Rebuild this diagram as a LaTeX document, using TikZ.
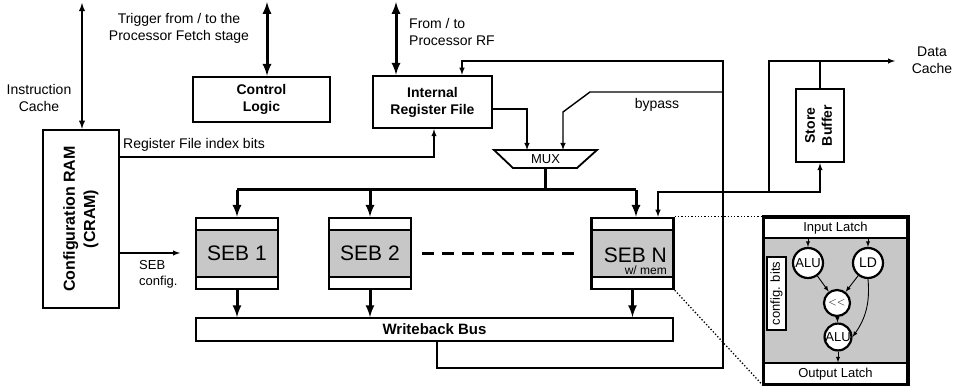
\documentclass[tikz,border=0pt]{standalone}
\usepackage{fontspec}
\setmainfont{Liberation Sans}
\usetikzlibrary{positioning}
\definecolor{sebgray}{gray}{0.78}

\tikzset{
  blk/.style={draw, line width=2.5pt, fill=white, align=center, inner sep=0pt,
    font=\bfseries\fontsize{14}{17}\selectfont},
  wire/.style={line width=1.4pt},
  bus/.style={line width=3pt},
  lbl/.style={align=center, inner sep=0pt, font=\fontsize{14}{17}\selectfont},
  seb/.style={draw, line width=2.5pt, fill=sebgray, minimum width=82pt, minimum height=71pt,
    inner sep=0pt, font=\fontsize{21}{24}\selectfont,
    path picture={
      \fill[white] (path picture bounding box.north west) rectangle ([yshift=-12pt]path picture bounding box.north east);
      \fill[white] (path picture bounding box.south west) rectangle ([yshift=12pt]path picture bounding box.south east);
      \draw[line width=1.8pt] ([yshift=-12pt]path picture bounding box.north west) -- ([yshift=-12pt]path picture bounding box.north east);
      \draw[line width=1.8pt] ([yshift=12pt]path picture bounding box.south west) -- ([yshift=12pt]path picture bounding box.south east);
    }},
  latch/.style={draw, line width=1.8pt, fill=white, minimum width=143pt, inner sep=0pt,
    font=\fontsize{13}{15}\selectfont},
  unit/.style={circle, draw, line width=2.2pt, fill=white, inner sep=0pt, minimum size=28pt,
    font=\fontsize{13}{15}\selectfont},
  fine/.style={line width=0.9pt, -latex},
}

\begin{document}
\begin{tikzpicture}[x=1pt,y=-1pt]
  \useasboundingbox (0,0) rectangle (954,387);

  % blocks
  \node[blk, minimum width=76pt, minimum height=178pt] (cram) at (81,219)
    {\rotatebox{90}{\fontsize{16}{20}\selectfont\begin{tabular}{@{}c@{}}Configuration RAM\\(CRAM)\end{tabular}}};
  \node[blk, minimum width=137pt, minimum height=45pt] (ctrl) at (261.5,99.5) {Control\\Logic};
  \node[blk, minimum width=119pt, minimum height=52pt] (rf) at (432.5,102) {Internal\\Register File};
  \node[blk, minimum width=48pt, minimum height=73pt] (sb) at (820,125.5)
    {\rotatebox{90}{\fontsize{14}{17}\selectfont\begin{tabular}{@{}c@{}}Store\\Buffer\end{tabular}}};

  \draw[line width=1.8pt, fill=white] (494,150) -- (597,150) -- (577,168) -- (513,168) -- cycle;
  \node[minimum width=103pt, minimum height=18pt, inner sep=0pt, font=\fontsize{13}{15}\selectfont] (mux) at (545.5,159) {MUX};

  \node[seb] (seb1) at (237,253.5) {SEB 1};
  \node[seb] (seb2) at (370,253.5) {SEB 2};
  \node[seb] (sebn) at (632.5,253.5) {};
  \node[anchor=east, inner sep=0pt, font=\fontsize{21}{24}\selectfont] (sebnt) at (667,255) {SEB N};
  \node[anchor=east, inner sep=0pt, font=\fontsize{12}{14}\selectfont] (sebnm) at (667,270.5) {w/ mem};

  \node[draw, line width=1.8pt, minimum width=477pt, minimum height=23pt, inner sep=0pt,
    font=\bfseries\fontsize{15}{18}\selectfont] (wb) at (434.5,329.5) {Writeback Bus};

  % SEB detail
  \node[draw, line width=2.5pt, fill=sebgray, minimum width=143pt, minimum height=166pt, inner sep=0pt] (det) at (835.5,301) {};
  \node[latch, minimum height=20pt, anchor=north] (inl) at (det.north) {Input Latch};
  \node[latch, minimum height=21pt, anchor=south] (outl) at (det.south) {Output Latch};
  \draw[line width=2.5pt] (det.north west) rectangle (det.south east);
  \node[draw, line width=1.2pt, fill=white, minimum width=19pt, minimum height=73pt, inner sep=0pt,
    font=\fontsize{13}{15}\selectfont] (cfgb) at (776.5,293.5) {\rotatebox{90}{config. bits}};
  \node[unit, minimum size=30pt] (alua) at (808,263) {ALU};
  \node[unit, minimum size=30pt, font=\fontsize{14}{16}\selectfont] (ld) at (868,263) {LD};
  \node[unit, minimum size=26pt, font=\fontsize{11}{13}\selectfont] (shl) at (837,303) {$<<$};
  \node[unit, minimum size=26pt] (alub) at (838,337) {ALU};
  \draw[fine] (alua.north |- inl.south) -- (alua);
  \draw[fine] (ld.north |- inl.south) -- (ld);
  \draw[fine] (alua) -- (shl);
  \draw[fine] (ld) -- (shl);
  \draw[fine] (shl) -- (alub);
  \draw[fine] (ld.south) to[bend left=20] (alub.east);
  \draw[fine] (alub) -- (alub |- outl.north);
  \draw[line width=1.3pt, dotted] (sebn.north east) -- (det.north west);
  \draw[line width=1.3pt, dotted] (sebn.south east) -- (det.south west);

  % outside ports
  \coordinate (ic) at (82,3);
  \draw[line width=1.8pt, latex-latex] (ic) -- (ic |- cram.north);
  \coordinate (trig) at (267,2);
  \draw[bus, latex-latex] (trig) -- (trig |- ctrl.north);
  \coordinate (prf) at (396,2);
  \draw[bus, latex-latex] (prf) -- (prf |- rf.north);

  \node[lbl] (icl) at (39,98) {Instruction\\Cache};
  \node[lbl] (trl) at (179,28.5) {Trigger from / to the\\Processor Fetch stage};
  \node[lbl, align=left, anchor=west] (rfl) at (409,32) {From / to\\Processor RF};

  % register file paths
  \coordinate (idx) at (434,157);
  \draw[wire,-latex] (cram.east |- idx) -- (idx) -- (idx |- rf.south);
  \node[lbl, anchor=west] (idxl) at (123,145) {Register File index bits};

  \coordinate (muxa) at (527,150);
  \coordinate (muxb) at (563,150);
  \draw[wire,-latex] ([yshift=-7pt]rf.east) -| (muxa);
  \coordinate (byp) at (723,92);
  \draw[wire,-latex] (byp) -- (590,92) -- (563,112) -- (muxb);
  \node[lbl] (bpl) at (657,105) {bypass};

  \coordinate (wbo) at (437,368);
  \coordinate (rfin) at (462,61);
  \draw[wire,-latex] (wb.south -| wbo) -- (wbo) -| (723,61) -- (rfin) -- (rfin |- rf.north);

  % operand bus
  \coordinate (bus) at (545.5,190);
  \coordinate (nin) at ([xshift=3.5pt]sebn.north);
  \draw[bus] (mux.south) -- (bus);
  \draw[bus] (seb1.north |- bus) -- (nin |- bus);
  \foreach \s in {seb1,seb2}
    \draw[bus,-latex] (\s.north |- bus) -- (\s.north);
  \draw[bus,-latex] (nin |- bus) -- (nin);
  \foreach \s in {seb1,seb2,sebn}
    \draw[bus,-latex] (\s.south) -- (\s.south |- wb.north);
  \draw[line width=2.5pt, dash pattern=on 12pt off 8pt] ([xshift=10pt]seb2.east) -- ([xshift=-12pt]sebn.west);

  \coordinate (cfg) at (180,253);
  \draw[wire,-latex] (cram.east |- cfg) -- (cfg);
  \node[lbl, align=left, anchor=west, font=\fontsize{13}{16}\selectfont] (cfgl) at (139,274) {SEB\\config.};

  % store buffer / data cache
  \coordinate (sbj) at (769,192);
  \coordinate (nin2) at ([xshift=25.5pt]sebn.north);
  \coordinate (dc) at (895,61);
  \draw[wire,-latex] (sbj) -- (nin2 |- sbj) -- (nin2);
  \draw[wire,-latex] (sbj) -| (sb.south);
  \draw[wire,-latex] (sbj) |- (dc);
  \draw[wire] (sb.north) -- (sb.north |- dc);
  \node[lbl] (dcl) at (932,60.5) {Data\\Cache};
\end{tikzpicture}
\end{document}
